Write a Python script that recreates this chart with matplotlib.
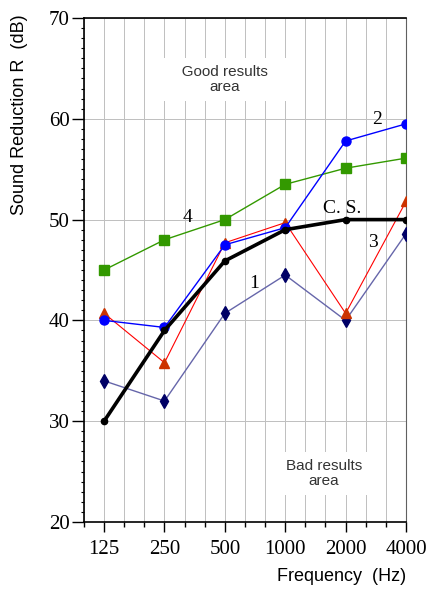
import numpy as np
import matplotlib
matplotlib.use('Agg')
import matplotlib.pyplot as plt
from matplotlib.ticker import FixedLocator, NullFormatter, MultipleLocator

# Octave band centre frequencies (Hz)
freqs = [125, 250, 500, 1000, 2000, 4000]
freq_labels = ['125', '250', '500', '1000', '2000', '4000']

# Sound reduction R (dB) for each curve
r_1 = [34.0, 32.0, 40.7, 44.5, 40.0, 48.6]
r_2 = [40.0, 39.3, 47.5, 49.2, 57.8, 59.5]
r_3 = [40.7, 35.8, 47.7, 49.7, 40.7, 51.8]
r_4 = [45.0, 48.0, 50.0, 53.5, 55.1, 56.1]
r_cs = [30.0, 39.0, 45.9, 49.0, 50.0, 50.0]

serif = 'Liberation Serif'
sans = 'Liberation Sans'

fig = plt.figure(figsize=(4.3, 5.89), dpi=100)
ax = fig.add_axes([0.1953, 0.1138, 0.7489, 0.8556])

ax.set_xscale('log', base=2)

# curves
ax.plot(freqs, r_1, color='#6666aa', lw=1, marker='d', ms=7,
        mfc='#000066', mec='#000066', zorder=3)
ax.plot(freqs, r_4, color='#339900', lw=1, marker='s', ms=7,
        mfc='#339900', mec='#339900', zorder=3)
ax.plot(freqs, r_3, color='#ff0000', lw=0.8, marker='^', ms=6.5,
        mfc='#cc3300', mec='#cc3300', zorder=3)
ax.plot(freqs, r_2, color='#0000ff', lw=1, marker='o', ms=6.5,
        mfc='#0000ff', mec='#0000ff', zorder=3)
ax.plot(freqs, r_cs, color='black', lw=2.6, marker='o', ms=4.5,
        mfc='black', mec='black', zorder=4)

# curve labels
ax.text(2868, 59.9, '2', fontsize=14, family=serif, ha='center', va='center')
ax.text(327, 50.2, '4', fontsize=14, family=serif, ha='center', va='center')
ax.text(1919, 51.1, 'C. S.', fontsize=14, family=serif, ha='center', va='center')
ax.text(2736, 47.7, '3', fontsize=14, family=serif, ha='center', va='center')
ax.text(697, 43.7, '1', fontsize=14, family=serif, ha='center', va='center')

# area notes
box = dict(boxstyle='square,pad=0.45', fc='white', ec='none')
ax.text(500, 63.9, '   Good results   \narea', fontsize=11, family=sans,
        color='#333333', ha='center', va='center', linespacing=1.05, bbox=box)
ax.text(1560, 24.8, 'Bad results\narea', fontsize=11, family=sans,
        color='#333333', ha='center', va='center', linespacing=1.05, bbox=box)

# axes limits and ticks
ax.set_xlim(125 * 2 ** (-1 / 3), 4000)
ax.set_ylim(20, 70)
minor_f = [125 * 2 ** (k / 3) for k in range(-1, 16) if k % 3 != 0]
ax.xaxis.set_major_locator(FixedLocator(freqs))
ax.xaxis.set_minor_locator(FixedLocator(minor_f))
ax.set_xticklabels(freq_labels)
ax.xaxis.set_minor_formatter(NullFormatter())
ax.yaxis.set_major_locator(MultipleLocator(10))
ax.yaxis.set_minor_locator(MultipleLocator(1))

ax.grid(True, which='both', axis='x', color='#c0c0c0', lw=0.7, antialiased=False)
ax.grid(True, which='major', axis='y', color='#c0c0c0', lw=0.7, antialiased=False)

ax.tick_params(axis='x', which='major', length=7, width=1, pad=6)
ax.tick_params(axis='x', which='minor', length=3.5, width=1)
ax.tick_params(axis='y', which='major', length=9, width=1, pad=1.5)
ax.tick_params(axis='y', which='minor', length=2.5, width=0.8)
for lab in ax.get_xticklabels() + ax.get_yticklabels():
    lab.set_family(serif)
    lab.set_fontsize(15)

for s in ['left', 'bottom', 'top']:
    ax.spines[s].set_linewidth(1.2)
    ax.spines[s].set_color('black')
ax.spines['right'].set_color('#606060')

ax.set_xlabel('Frequency  (Hz)', fontsize=13, family=sans, ha='right', va='center')
ax.xaxis.set_label_coords(1.0, -0.109)
ax.set_ylabel('Sound Reduction R  (dB)', fontsize=13, family=sans, va='center')
ax.yaxis.set_label_coords(-0.199, 0.808)

fig.savefig('out.png', dpi=100)
